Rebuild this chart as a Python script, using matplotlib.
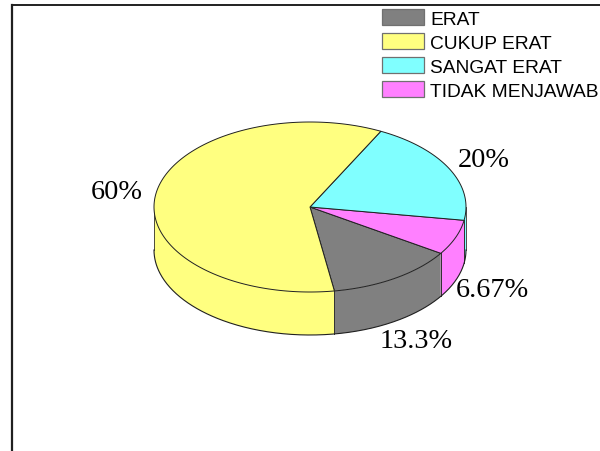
import numpy as np
import matplotlib
matplotlib.use("Agg")
import matplotlib.pyplot as plt
from matplotlib.patches import Patch

categories = ["ERAT", "CUKUP ERAT", "SANGAT ERAT", "TIDAK MENJAWAB"]
colors = ["#808080", "#FFFF80", "#80FFFF", "#FF80FF"]

# slices in the order they go round the pie
slice_names = ["ERAT", "TIDAK MENJAWAB", "SANGAT ERAT", "CUKUP ERAT"]
values = [13.33, 6.67, 20, 60]
labels = ["13.3%", "6.67%", "20%", "60%"]
color_map = dict(zip(categories, colors))

# pie placement, in pixels of the 600x452 picture
cx, cy, rx, ry = 310, 208, 156, 85
depth = 43
start_angle = -81
label_pos = [(416, 342), (492, 291), (484, 161), (117, 193)]

fig = plt.figure(figsize=(6, 4.52), dpi=100)
ax = fig.add_axes([0, 0, 1, 1])
ax.set_xlim(0, 600)
ax.set_ylim(452, 0)
ax.axis("off")


def rim(a, b):
    t = np.radians(np.linspace(a, b, max(int(abs(b - a)) * 2, 2)))
    return cx + rx * np.cos(t), cy - ry * np.sin(t)


# angle range of each slice
edges = start_angle + np.concatenate([[0], np.cumsum(values)]) / np.sum(values) * 360

# side wall first, only the front half of the rim shows
for i, name in enumerate(slice_names):
    for shift in (0, 360):
        a = max(edges[i] + shift, 180)
        b = min(edges[i + 1] + shift, 360)
        if b <= a:
            continue
        x, y = rim(a, b)
        px = np.concatenate([x, x[::-1]])
        py = np.concatenate([y, y[::-1] + depth])
        ax.fill(px, py, facecolor=color_map[name], edgecolor="none", zorder=2)
        ax.plot([x[0], x[0]], [y[0], y[0] + depth], color="#303030", lw=0.6, zorder=3)
        ax.plot([x[-1], x[-1]], [y[-1], y[-1] + depth], color="#303030", lw=0.6, zorder=3)

x, y = rim(180, 360)
ax.plot(x, y + depth, color="#202020", lw=0.8, zorder=3)

# top face
for i, name in enumerate(slice_names):
    x, y = rim(edges[i], edges[i + 1])
    ax.fill(np.r_[cx, x], np.r_[cy, y], facecolor=color_map[name],
            edgecolor="#202020", lw=0.7, zorder=4)

for text, (lx, ly) in zip(labels, label_pos):
    ax.text(lx, ly, text, family="Liberation Serif", fontsize=20.3,
            ha="center", va="center", color="black", zorder=5)

# frame is only visible at the top and on the left
ax.plot([12, 12], [452, 5.5], color="#202020", lw=1.6, clip_on=False, zorder=1)
ax.plot([11.5, 600], [5.5, 5.5], color="#202020", lw=1.4, clip_on=False, zorder=1)

handles = [Patch(facecolor=c, edgecolor="#707070", lw=0.9, label=n)
           for c, n in zip(colors, categories)]
ax.legend(handles=handles, loc="upper left", bbox_to_anchor=(382 / 600, 1 - 10 / 452),
          frameon=False, borderpad=0, borderaxespad=0, handlelength=2.19,
          handleheight=0.89, handletextpad=0.31, labelspacing=0.29,
          prop={"family": "Liberation Sans", "size": 13.8})

fig.savefig("out.png", dpi=100)
